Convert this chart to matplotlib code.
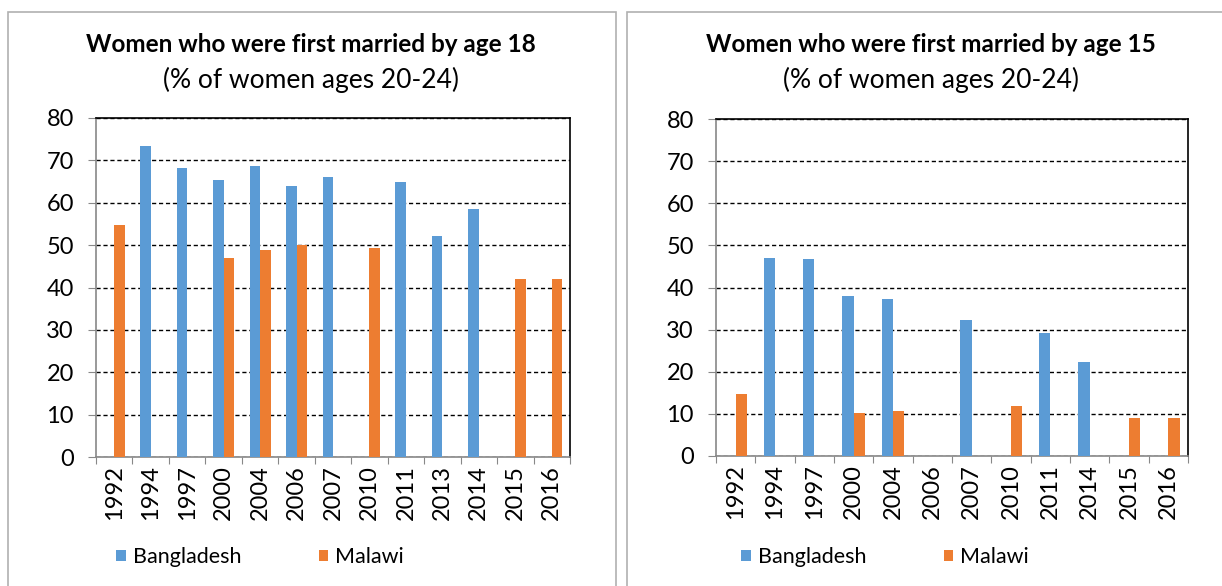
import matplotlib
matplotlib.use("Agg")
import matplotlib.pyplot as plt
import numpy as np
from matplotlib.patches import Rectangle

plt.rcParams['font.family'] = ['Lato', 'DejaVu Sans']

BLUE = '#5b9bd5'
ORANGE = '#ed7d31'

# left chart: first married by 18
years_18 = ['1992', '1994', '1997', '2000', '2004', '2006', '2007',
            '2010', '2011', '2013', '2014', '2015', '2016']
bangladesh_18 = [0, 73.4, 68.3, 65.3, 68.6, 63.9, 66.1, 0, 64.8, 52.2, 58.6, 0, 0]
malawi_18 = [54.7, 0, 0, 46.9, 48.9, 50.1, 0, 49.4, 0, 0, 0, 41.9, 41.9]

# right chart: first married by 15
years_15 = ['1992', '1994', '1997', '2000', '2004', '2006', '2007',
            '2010', '2011', '2014', '2015', '2016']
bangladesh_15 = [0, 47.0, 46.7, 38.1, 37.2, 0, 32.2, 0, 29.1, 22.4, 0, 0]
malawi_15 = [14.8, 0, 0, 10.1, 10.6, 0, 0, 11.8, 0, 0, 9.0, 9.0]

W, H = 1222, 586
fig = plt.figure(figsize=(W / 100, H / 100), dpi=100)

# panel frames
for x0, x1 in [(8, 616), (627, 1240)]:
    fig.patches.append(Rectangle((x0 / W, -0.1), (x1 - x0) / W, 1.1 - 12 / H,
                                 transform=fig.transFigure, fill=False,
                                 edgecolor='#b0b0b0', lw=1.2))


def draw(rect, cats, b, m, title, tcx, lgx):
    l, t, r, btm = rect
    ax = fig.add_axes([l / W, 1 - btm / H, (r - l) / W, (btm - t) / H])
    x = np.arange(len(cats))
    w = 0.286
    ax.bar(x - w / 2, b, w, color=BLUE, label='Bangladesh', zorder=3)
    ax.bar(x + w / 2, m, w, color=ORANGE, label='Malawi', zorder=3)
    ax.set_xlim(-0.5, len(cats) - 0.5)
    ax.set_ylim(0, 80)
    ax.set_yticks(range(0, 81, 10))
    ax.yaxis.grid(True, color='black', ls=(0, (3, 2)), lw=1)
    ax.set_axisbelow(True)
    ax.set_xticks(np.arange(len(cats) + 1) - 0.5, minor=False)
    ax.set_xticklabels([])
    ax.set_xticks(x, minor=True)
    ax.set_xticklabels(cats, minor=True, rotation=90, fontsize=17)
    ax.tick_params(axis='x', which='minor', length=0, pad=6)
    ax.tick_params(axis='x', which='major', length=5, color='#888888')
    ax.tick_params(axis='y', length=6, color='#888888', labelsize=17, pad=10)
    for s in ['top', 'right']:
        ax.spines[s].set_color('black')
        ax.spines[s].set_linewidth(1.2)
    for s in ['left', 'bottom']:
        ax.spines[s].set_color('#888888')
        ax.spines[s].set_linewidth(1.2)
    fig.text(tcx / W, 1 - 45 / H, title, ha='center', va='center',
             fontsize=17.5, fontweight='bold')
    fig.text(tcx / W, 1 - 80 / H, '(% of women ages 20-24)', ha='center',
             va='center', fontsize=19)
    fig.legend(*ax.get_legend_handles_labels(), loc='center',
               bbox_to_anchor=(lgx / W, 1 - 557 / H),
               ncol=2, frameon=False, fontsize=15.5, handlelength=0.45,
               handleheight=0.45, columnspacing=3.6, handletextpad=0.3)
    return ax


draw((96, 118, 570, 457), years_18, bangladesh_18, malawi_18,
     'Women who were first married by age 18', 311, 260)
draw((716, 119, 1188, 456), years_15, bangladesh_15, malawi_15,
     'Women who were first married by age 15', 931, 885)

fig.savefig('out.png', dpi=100)
